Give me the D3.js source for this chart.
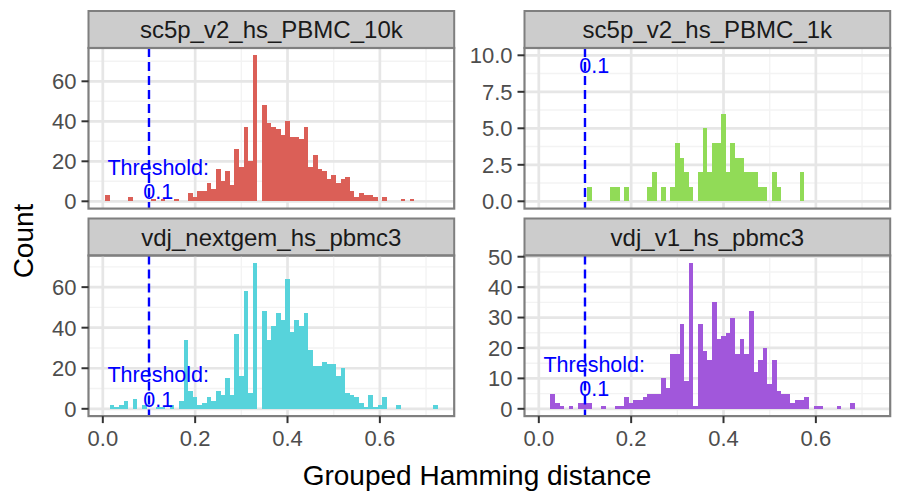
<!DOCTYPE html>
<html lang="en">
<head>
<meta charset="UTF-8">
<title>Grouped Hamming distance</title>
<script src="https://d3js.org/d3.v7.min.js"></script>
<style>
  body { margin: 0; background: #fff; }
  svg text { font-family: "Liberation Sans", Arial, Helvetica, sans-serif; }
</style>
</head>
<body>
<div id="chart"></div>
<script>
// facet names and fill colours
const panelNames = ["sc5p_v2_hs_PBMC_10k", "sc5p_v2_hs_PBMC_1k", "vdj_nextgem_hs_pbmc3", "vdj_v1_hs_pbmc3"];
const panelColors = ["#DB5F57", "#91DB57", "#57D3DB", "#A157DB"];

// histogram bins (bin centres, width 0.01) and counts
const x10k = [0.01,0.06,0.11,0.13,0.16,0.19,0.20,0.21,0.22,0.23,0.24,0.25,0.26,0.27,0.28,0.29,0.30,0.31,0.32,0.33,
              0.35,0.36,0.37,0.38,0.39,0.40,0.41,0.42,0.43,0.44,0.45,0.46,0.47,0.48,0.49,0.50,0.51,0.52,0.53,0.54,
              0.55,0.56,0.57,0.58,0.59,0.61,0.65,0.67];
const n10k = [3,2,1,1,1,4,2,5,5,9,6,16,10,15,8,26,17,37,20,73,
              48,39,37,36,33,40,32,32,31,37,17,23,16,15,11,13,9,11,12,5,
              2,4,3,3,2,2,1,1];

const x1k = [0.11,0.16,0.17,0.19,0.24,0.25,0.27,0.29,0.30,0.31,0.32,0.33,0.35,0.36,0.37,0.38,0.39,0.40,0.41,0.42,
             0.43,0.44,0.45,0.46,0.47,0.48,0.49,0.51,0.52,0.57];
const n1k = [1,1,1,1,1,2,1,1,4,3,2,1,2,5,2,4,4,6,2,4,
             3,3,2,2,2,1,1,2,1,2];

const xNextgem = [0.02,0.03,0.04,0.05,0.07,0.09,0.12,0.13,0.15,0.17,0.18,0.19,0.20,0.21,0.22,0.23,0.24,0.25,0.26,0.27,
                  0.28,0.29,0.30,0.31,0.32,0.33,0.35,0.36,0.37,0.38,0.39,0.40,0.41,0.42,0.43,0.44,0.45,0.46,0.47,0.48,
                  0.49,0.50,0.51,0.52,0.53,0.54,0.55,0.56,0.57,0.58,0.59,0.60,0.61,0.64,0.72];
const nNextgem = [2,1,2,4,5,2,1,1,2,4,34,9,6,2,3,6,4,9,7,15,
                  7,37,16,58,8,72,48,34,41,47,44,64,38,44,41,47,29,21,21,23,
                  22,22,16,20,8,7,6,3,1,7,1,2,6,2,2];

const xV1 = [0.03,0.04,0.05,0.07,0.09,0.10,0.11,0.14,0.17,0.18,0.19,0.20,0.21,0.22,0.23,0.24,0.25,0.26,0.27,0.28,
             0.29,0.30,0.31,0.32,0.33,0.34,0.35,0.36,0.37,0.38,0.39,0.40,0.41,0.42,0.43,0.44,0.45,0.46,0.47,0.48,
             0.49,0.50,0.51,0.52,0.53,0.54,0.55,0.56,0.57,0.58,0.60,0.61,0.65,0.68];
const nV1 = [5,2,1,1,2,2,2,1,1,1,4,2,3,3,4,5,5,5,10,7,
             18,18,28,9,48,1,28,19,16,35,23,24,25,30,18,23,18,32,12,16,
             20,8,16,6,5,5,2,3,3,4,1,1,1,2];

const binWidth = 0.01;

// axis ticks
const xTickValues = [0, 0.2, 0.4, 0.6];
const xTickLabels = ["0.0", "0.2", "0.4", "0.6"];
const yTickValues = [[0, 20, 40, 60], [0, 2.5, 5, 7.5, 10], [0, 20, 40, 60], [0, 10, 20, 30, 40, 50]];
const yTickLabels = [["0", "20", "40", "60"], ["0.0", "2.5", "5.0", "7.5", "10.0"],
                     ["0", "20", "40", "60"], ["0", "10", "20", "30", "40", "50"]];

// threshold line + annotation
const threshold = 0.1;
const labelX = 0.12, labelY = 10;
const labelLines = ["Threshold:", "0.1"];

const panels = [
    { name: panelNames[0], color: panelColors[0], xs: x10k, ns: n10k, col: 0, row: 0 },
    { name: panelNames[1], color: panelColors[1], xs: x1k, ns: n1k, col: 1, row: 0 },
    { name: panelNames[2], color: panelColors[2], xs: xNextgem, ns: nNextgem, col: 0, row: 1 },
    { name: panelNames[3], color: panelColors[3], xs: xV1, ns: nV1, col: 1, row: 1 }
];

const W = 900, H = 500;
const colLeft = [88.5, 524.5];
const rowTop = [11, 218.5];
const stripH = 37;
const pw = 365.7, ph = 160.6;
const tickLen = 7;
const tickFont = 22;
const gridCol = "#e6e6e6", minorCol = "#f3f3f3", borderCol = "#7f7f7f";

const svg = d3.select("#chart").append("svg")
    .attr("width", W).attr("height", H)
    .style("background", "#fff");

// shared x scale (bin range expanded by 5%)
const allX = panels.flatMap(p => p.xs);
const xLo = d3.min(allX) - binWidth / 2, xHi = d3.max(allX) + binWidth / 2;
const xPad = (xHi - xLo) * 0.05;
const x = d3.scaleLinear().domain([xLo - xPad, xHi + xPad]).range([0, pw]);

function minorOf(ticks, domain) {
    const step = ticks[1] - ticks[0];
    const out = [ticks[0] - step / 2].concat(ticks.map(t => t + step / 2));
    return out.filter(v => v >= domain[0] && v <= domain[1]);
}
const xMinor = minorOf(xTickValues, x.domain());

panels.forEach((p, i) => {
    const left = colLeft[p.col];
    const top = rowTop[p.row] + stripH;

    const yMax = Math.max(d3.max(p.ns), labelY);
    const y = d3.scaleLinear().domain([-0.05 * yMax, 1.05 * yMax]).range([ph, 0]);
    const yMinor = minorOf(yTickValues[i], y.domain());

    // strip
    const strip = svg.append("g").attr("transform", `translate(${left},${rowTop[p.row]})`);
    strip.append("rect")
        .attr("width", pw).attr("height", stripH)
        .attr("fill", "#cccccc").attr("stroke", borderCol).attr("stroke-width", 2);
    strip.append("text")
        .attr("x", pw / 2).attr("y", stripH / 2 + 8.5)
        .attr("text-anchor", "middle")
        .attr("font-size", 24).attr("fill", "#1a1a1a")
        .text(p.name);

    const g = svg.append("g").attr("transform", `translate(${left},${top})`);

    svg.append("clipPath").attr("id", "clip" + i)
        .append("rect").attr("width", pw).attr("height", ph);

    const inner = g.append("g").attr("clip-path", `url(#clip${i})`);

    // grid
    inner.selectAll(".xminor").data(xMinor).join("line")
        .attr("x1", d => x(d)).attr("x2", d => x(d)).attr("y1", 0).attr("y2", ph)
        .attr("stroke", minorCol).attr("stroke-width", 1.4);
    inner.selectAll(".yminor").data(yMinor).join("line")
        .attr("y1", d => y(d)).attr("y2", d => y(d)).attr("x1", 0).attr("x2", pw)
        .attr("stroke", minorCol).attr("stroke-width", 1.4);
    inner.selectAll(".xmajor").data(xTickValues).join("line")
        .attr("x1", d => x(d)).attr("x2", d => x(d)).attr("y1", 0).attr("y2", ph)
        .attr("stroke", gridCol).attr("stroke-width", 2.7);
    inner.selectAll(".ymajor").data(yTickValues[i]).join("line")
        .attr("y1", d => y(d)).attr("y2", d => y(d)).attr("x1", 0).attr("x2", pw)
        .attr("stroke", gridCol).attr("stroke-width", 2.7);

    // bars
    const bins = p.xs.map((c, k) => ({ c: c, n: p.ns[k] }));
    inner.selectAll(".bar").data(bins).join("rect")
        .attr("x", d => x(d.c - binWidth / 2))
        .attr("width", d => x(d.c + binWidth / 2) - x(d.c - binWidth / 2))
        .attr("y", d => y(d.n))
        .attr("height", d => y(0) - y(d.n))
        .attr("fill", p.color)
        .attr("shape-rendering", "crispEdges");

    // threshold
    inner.append("line")
        .attr("x1", x(threshold)).attr("x2", x(threshold))
        .attr("y1", 0).attr("y2", ph)
        .attr("stroke", "#0000ff").attr("stroke-width", 2.4)
        .attr("stroke-dasharray", "9,5");

    // annotation lines (a line that falls wholly above the panel is clipped away)
    const lineY = [y(labelY) - 6.5, y(labelY) + 18];
    labelLines.forEach((t, k) => {
        if (lineY[k] < 2) return;
        inner.append("text")
            .attr("x", x(labelX)).attr("y", lineY[k])
            .attr("text-anchor", "middle").attr("font-size", 21.5).attr("fill", "#0000ff")
            .text(t);
    });

    // border
    g.append("rect")
        .attr("width", pw).attr("height", ph)
        .attr("fill", "none").attr("stroke", borderCol).attr("stroke-width", 2.2);

    // y axis
    const yAxis = g.append("g");
    yAxis.selectAll("line").data(yTickValues[i]).join("line")
        .attr("x1", -tickLen).attr("x2", 0)
        .attr("y1", d => y(d)).attr("y2", d => y(d))
        .attr("stroke", "#333333").attr("stroke-width", 2);
    yAxis.selectAll("text").data(yTickValues[i]).join("text")
        .attr("x", -tickLen - 5)
        .attr("y", d => y(d))
        .attr("dy", "0.36em")
        .attr("text-anchor", "end")
        .attr("font-size", tickFont).attr("fill", "#4d4d4d")
        .text((d, k) => yTickLabels[i][k]);

    // x axis on bottom row only
    if (p.row === 1) {
        const xAxis = g.append("g").attr("transform", `translate(0,${ph})`);
        xAxis.selectAll("line").data(xTickValues).join("line")
            .attr("x1", d => x(d)).attr("x2", d => x(d))
            .attr("y1", 0).attr("y2", tickLen)
            .attr("stroke", "#333333").attr("stroke-width", 2);
        xAxis.selectAll("text").data(xTickValues).join("text")
            .attr("x", d => x(d))
            .attr("y", tickLen + 23)
            .attr("text-anchor", "middle")
            .attr("font-size", tickFont).attr("fill", "#4d4d4d")
            .text((d, k) => xTickLabels[k]);
    }
});

// axis titles
svg.append("text")
    .attr("x", 477)
    .attr("y", 485)
    .attr("text-anchor", "middle")
    .attr("font-size", 28).attr("fill", "#000")
    .text("Grouped Hamming distance");

svg.append("text")
    .attr("transform", "translate(33,241) rotate(-90)")
    .attr("text-anchor", "middle")
    .attr("font-size", 28).attr("fill", "#000")
    .text("Count");
</script>
</body>
</html>
